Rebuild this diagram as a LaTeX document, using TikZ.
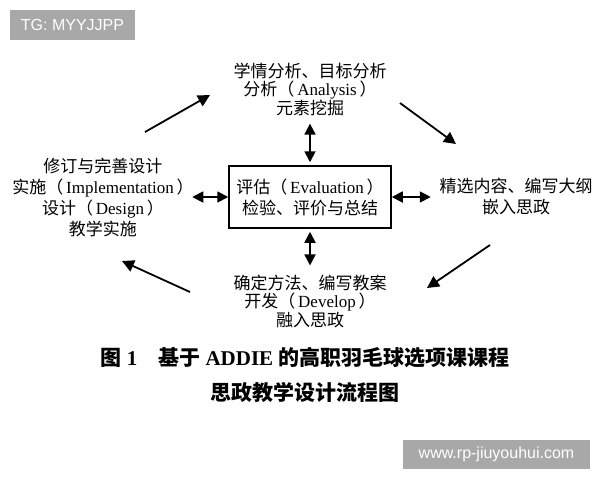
\documentclass[tikz,border=0pt]{standalone}
\usepackage{fontspec}
\setmainfont{Liberation Serif}
\newfontfamily\cjk{Noto Sans CJK SC}
\newfontfamily\wmfont{Liberation Sans}
\usetikzlibrary{arrows.meta}
\usetikzlibrary{positioning}
\newcommand{\zh}[1]{{\cjk #1}}
\tikzset{
    block/.style={
           align=center,
           inner sep=0pt,
           font=\fontsize{17}{18.5}\selectfont,
           },
    wideblock/.style={
           block,
           font=\fontsize{17}{21}\selectfont,
           },
    evalbox/.style={
           rectangle,
           draw=black, line width=1.5pt,
           minimum width=162pt, minimum height=62pt,
           align=center,
           font=\fontsize{17}{21}\selectfont,
           },
    wmbox/.style={
           rectangle,
           fill=black!34,
           text=white,
           font=\wmfont\fontsize{16}{16}\selectfont,
           },
    link/.style={
           line width=1.8pt,
           -{Triangle[length=12pt,width=12pt]},
           },
    dlink/.style={
           line width=1.8pt,
           {Triangle[length=11pt,width=11pt]}-{Triangle[length=11pt,width=11pt]},
           },
}

\begin{document}
\begin{tikzpicture}[x=1pt,y=-1pt]
   \useasboundingbox[fill=white] (0,0) rectangle (600,480);
   % watermarks
   \node[wmbox, minimum width=125pt, minimum height=30pt] (tg) at (72.5,25) {TG: MYYJJPP};
   \node[wmbox, minimum width=187pt, minimum height=29pt] (site) at (496.5,454.5) {www.rp-jiuyouhui.com};
   % ADDIE stages
   \node[block] (analysis) at (310,89)
      {\zh{学情分析、目标分析}\\\zh{分析（}\,Analysis\,\zh{）}\\\zh{元素挖掘}};
   \node[wideblock] (design) at (103,197)
      {\zh{修订与完善设计}\\\zh{实施（}\,Implementation\,\zh{）}\\\zh{设计（}\,Design\,\zh{）}\\\zh{教学实施}};
   \node[evalbox] (eval) at (310,197)
      {\zh{评估（}\,Evaluation\,\zh{）}\\\zh{检验、评价与总结}};
   \node[wideblock] (select) at (516,196)
      {\zh{精选内容、编写大纲}\\\zh{嵌入思政}};
   \node[block] (develop) at (310,301)
      {\zh{确定方法、编写教案}\\\zh{开发（}\,Develop\,\zh{）}\\\zh{融入思政}};
   % cycle arrows
   \coordinate (ul1) at (145,132);
   \coordinate (ul2) at (210,95);
   \coordinate (ur1) at (400,103);
   \coordinate (ur2) at (456,144);
   \coordinate (lr1) at (490,245);
   \coordinate (lr2) at (427,288);
   \coordinate (ll1) at (190,292);
   \coordinate (ll2) at (122,261);
   \draw[link] (ul1) -- (ul2);
   \draw[link] (ur1) -- (ur2);
   \draw[link] (lr1) -- (lr2);
   \draw[link] (ll1) -- (ll2);
   % links to evaluation
   \draw[dlink, shorten <=8pt, shorten >=3pt] (analysis.south) -- (eval.north);
   \draw[dlink, shorten <=9pt, shorten >=3pt] (develop.north) -- (eval.south);
   \draw[dlink, shorten >=2pt] (eval.west) -- ++(-38,0) coordinate (dl);
   \draw[dlink, shorten >=2pt] (eval.east) -- ++(41,0) coordinate (dr);
   % caption
   \node[font=\fontsize{21}{21}\selectfont\bfseries] (cap1) at (305,358)
      {\zh{图}\ 1\quad\zh{基于}\ ADDIE\ \zh{的高职羽毛球选项课课程}};
   \node[font=\fontsize{21}{21}\selectfont\bfseries] (cap2) at (305,392)
      {\zh{思政教学设计流程图}};
\end{tikzpicture}
\end{document}
